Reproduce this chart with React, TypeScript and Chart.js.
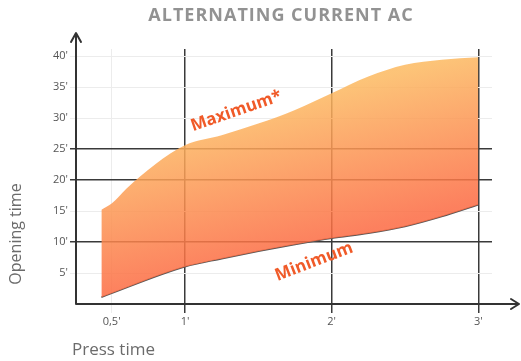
import React, { useEffect, useRef } from "react";
import { Chart, registerables } from "chart.js";

Chart.register(...registerables);

const titleText = "ALTERNATING CURRENT AC";
const yAxisTitle = "Opening time";
const xAxisTitle = "Press time";

const xTickValues = [0.5, 1, 2, 3];
const xTickLabels = ["0,5'", "1'", "2'", "3'"];
const yTickValues = [5, 10, 15, 20, 25, 30, 35, 40];
const yTickLabels = ["5'", "10'", "15'", "20'", "25'", "30'", "35'", "40'"];
const darkXTicks = [1, 2, 3];
const darkYTicks = [10, 20, 25];

const upperX = [0.43, 0.5, 0.6, 0.8, 1, 1.25, 1.5, 1.75, 2, 2.25, 2.5, 2.75, 3];
const upperY = [15.2, 16.2, 18.6, 22.6, 25.6, 27.2, 29.1, 31.3, 34.0, 36.7, 38.6, 39.4, 39.8];
const lowerX = [0.43, 1, 1.25, 1.5, 1.75, 2, 2.25, 2.5, 2.75, 3];
const lowerY = [1.1, 6.0, 7.3, 8.5, 9.6, 10.6, 11.4, 12.5, 14.1, 16.0];

const maxLabel = { text: "Maximum*", x: 1.35, y: 31.1, angle: -19 };
const minLabel = { text: "Minimum", x: 1.88, y: 6.8, angle: -21 };

const FONT = "'Open Sans', 'DejaVu Sans', sans-serif";

const overlayPlugin = {
  id: "overlay",
  afterDraw(chart: any) {
    const ctx = chart.ctx;
    const ca = chart.chartArea;
    const xs = chart.scales.x;
    const ys = chart.scales.y;
    const ox = ca.left;
    const oy = ca.bottom;
    ctx.save();
    // title
    ctx.fillStyle = "#929292";
    ctx.font = `bold 18px ${FONT}`;
    (ctx as any).letterSpacing = "1px";
    ctx.textAlign = "center";
    ctx.textBaseline = "middle";
    ctx.fillText(titleText, 281, 16);
    (ctx as any).letterSpacing = "0px";

    // axes
    ctx.strokeStyle = "#333333";
    ctx.lineWidth = 2;
    ctx.lineCap = "round";
    ctx.lineJoin = "round";
    ctx.beginPath();
    ctx.moveTo(ox, oy);
    ctx.lineTo(ox, ca.top - 15);
    ctx.moveTo(ox - 5, ca.top - 7);
    ctx.lineTo(ox, ca.top - 16);
    ctx.lineTo(ox + 5, ca.top - 7);
    ctx.moveTo(ox, oy);
    ctx.lineTo(chart.width - 3, oy);
    ctx.moveTo(chart.width - 10, oy - 5);
    ctx.lineTo(chart.width - 2, oy);
    ctx.lineTo(chart.width - 10, oy + 5);
    ctx.stroke();

    // axis titles
    ctx.fillStyle = "#6b6b6b";
    ctx.font = `16px ${FONT}`;
    ctx.textAlign = "center";
    ctx.textBaseline = "middle";
    ctx.save();
    ctx.translate(16, 234);
    ctx.rotate(-Math.PI / 2);
    ctx.fillText(yAxisTitle, 0, 0);
    ctx.restore();
    ctx.textAlign = "left";
    ctx.textBaseline = "alphabetic";
    ctx.font = `17px ${FONT}`;
    ctx.fillText(xAxisTitle, ox - 4, 355);

    // curve labels
    ctx.fillStyle = "#f05a28";
    ctx.font = `bold 17px ${FONT}`;
    ctx.textAlign = "center";
    ctx.textBaseline = "middle";
    [maxLabel, minLabel].forEach((l) => {
      ctx.save();
      ctx.translate(xs.getPixelForValue(l.x), ys.getPixelForValue(l.y));
      ctx.rotate((l.angle * Math.PI) / 180);
      ctx.fillText(l.text, 0, 0);
      ctx.restore();
    });
    ctx.restore();
  },
};

export default function App() {
  const ref = useRef<HTMLCanvasElement>(null);
  useEffect(() => {
    const canvas = ref.current;
    if (!canvas) return;
    const chart = new Chart(canvas, {
      type: "line",
      data: {
        datasets: [
          {
            label: "Maximum",
            data: upperX.map((x, i) => ({ x, y: upperY[i] })),
            borderWidth: 0,
            borderColor: "rgba(0,0,0,0)",
            pointRadius: 0,
            cubicInterpolationMode: "monotone",
            fill: "+1",
            backgroundColor: (c: any) => {
              const ca = c.chart.chartArea;
              if (!ca) return "rgba(252,160,100,0.85)";
              const g = c.chart.ctx.createLinearGradient(ca.left - 35, ca.top + 114, ca.left + 1, ca.bottom);
              g.addColorStop(0, "rgba(252,185,96,0.85)");
              g.addColorStop(1, "rgba(252,106,66,0.85)");
              return g;
            },
          },
          {
            label: "Minimum",
            data: lowerX.map((x, i) => ({ x, y: lowerY[i] })),
            borderWidth: 1.5,
            borderColor: "#555555",
            pointRadius: 0,
            cubicInterpolationMode: "monotone",
            fill: false,
          },
        ],
      },
      options: {
        responsive: false,
        animation: false,
        devicePixelRatio: 1,
        layout: { padding: { left: 0, right: 29, top: 49, bottom: 0 } },
        plugins: {
          legend: { display: false },
          tooltip: { enabled: false },
          title: { display: false },
        },
        scales: {
          x: {
            type: "linear",
            min: 0.257,
            max: 3.093,
            afterFit: (s: any) => {
              s.height = 57;
            },
            afterBuildTicks: (s: any) => {
              s.ticks = xTickValues.map((v) => ({ value: v }));
            },
            ticks: {
              autoSkip: false,
              maxRotation: 0,
              padding: 2,
              color: "#555555",
              font: { family: FONT, size: 11 },
              callback: (v: any) => {
                const i = xTickValues.indexOf(Number(v));
                return i >= 0 ? xTickLabels[i] : "";
              },
            },
            grid: {
              tickLength: 9,
              color: (c: any) => (c.tick && darkXTicks.includes(c.tick.value) ? "#3a3a3a" : "#ececec"),
              lineWidth: (c: any) => (c.tick && darkXTicks.includes(c.tick.value) ? 1.5 : 1),
            },
            border: { display: false },
          },
          y: {
            type: "linear",
            min: 0,
            max: 41.13,
            afterFit: (s: any) => {
              s.width = 76;
            },
            afterBuildTicks: (s: any) => {
              s.ticks = yTickValues.map((v) => ({ value: v }));
            },
            ticks: {
              autoSkip: false,
              padding: 2,
              color: "#555555",
              font: { family: FONT, size: 11 },
              callback: (v: any) => {
                const i = yTickValues.indexOf(Number(v));
                return i >= 0 ? yTickLabels[i] : "";
              },
            },
            grid: {
              tickLength: 6,
              color: (c: any) => (c.tick && darkYTicks.includes(c.tick.value) ? "#3a3a3a" : "#ececec"),
              lineWidth: (c: any) => (c.tick && darkYTicks.includes(c.tick.value) ? 1.5 : 1),
            },
            border: { display: false },
          },
        },
      },
      plugins: [overlayPlugin],
    } as any);
    return () => chart.destroy();
  }, []);
  return (
    <div style={{ position: "absolute", left: 0, top: 0, width: 521, height: 361, background: "#fff" }}>
      <canvas ref={ref} width={521} height={361} style={{ display: "block", width: 521, height: 361 }} />
    </div>
  );
}
